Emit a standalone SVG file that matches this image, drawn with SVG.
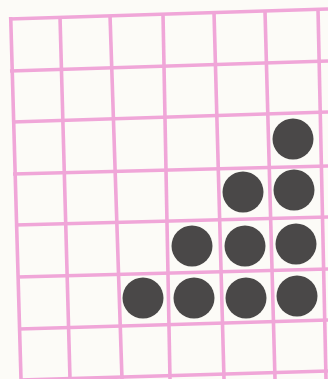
<svg xmlns="http://www.w3.org/2000/svg" width="328" height="379" viewBox="0 0 328 379">
<style>
.g{stroke:#f0a6d8;stroke-width:3.6;stroke-linecap:butt;fill:none}
.d{fill:#4a4848}
</style>
<rect x="0" y="0" width="328" height="379" fill="#fcfbf7"/>
<g id="grid">
<line class="g" x1="9" y1="19" x2="328" y2="9"/>
<line class="g" x1="10" y1="71" x2="328" y2="61"/>
<line class="g" x1="12" y1="122" x2="328" y2="112"/>
<line class="g" x1="13" y1="174" x2="328" y2="166"/>
<line class="g" x1="15" y1="225" x2="328" y2="217"/>
<line class="g" x1="17" y1="277" x2="328" y2="269"/>
<line class="g" x1="19" y1="329" x2="328" y2="320"/>
<line class="g" x1="20" y1="380" x2="328" y2="371"/>
<line class="g" x1="10.7" y1="17" x2="21" y2="379"/>
<line class="g" x1="60" y1="17" x2="70" y2="379"/>
<line class="g" x1="110" y1="15" x2="122" y2="379"/>
<line class="g" x1="163" y1="14" x2="170" y2="379"/>
<line class="g" x1="214" y1="12" x2="224" y2="379"/>
<line class="g" x1="265" y1="11" x2="275" y2="379"/>
<line class="g" x1="318" y1="9" x2="326" y2="379"/>
</g>
<g id="dots">
<circle class="d" cx="293" cy="139" r="20.5"/>
<circle class="d" cx="243" cy="192" r="20.5"/>
<circle class="d" cx="294" cy="190" r="20.5"/>
<circle class="d" cx="192" cy="246" r="20.5"/>
<circle class="d" cx="245" cy="246" r="20.5"/>
<circle class="d" cx="296" cy="244" r="20.5"/>
<circle class="d" cx="143" cy="298" r="20.5"/>
<circle class="d" cx="194" cy="298" r="20.5"/>
<circle class="d" cx="246" cy="298" r="20.5"/>
<circle class="d" cx="297" cy="296" r="20.5"/>
</g>
</svg>
